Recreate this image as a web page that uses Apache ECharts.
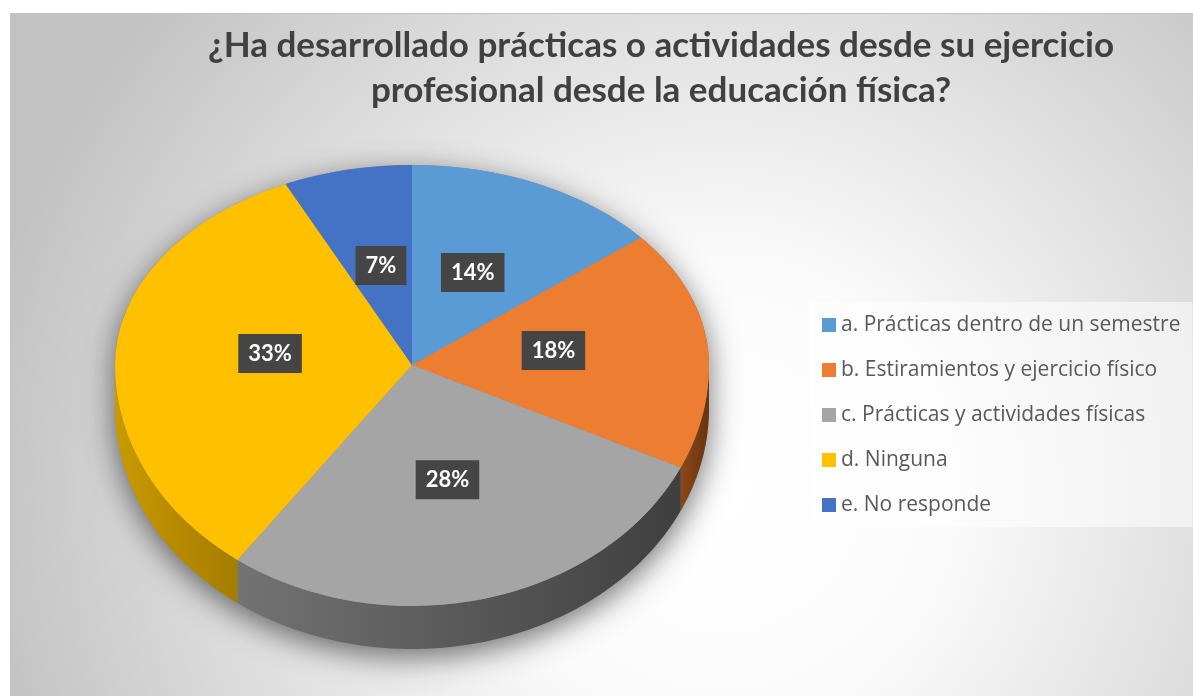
<!DOCTYPE html>
<html>
<head>
<meta charset="utf-8">
<script src="https://cdn.jsdelivr.net/npm/echarts@6/dist/echarts.min.js"></script>
<style>
  html, body { margin: 0; padding: 0; background: #fff; }
  #chart { width: 1193px; height: 696px; }
</style>
</head>
<body>
<div id="chart"></div>
<script>
// datos de la encuesta (porcentajes)
const categories = [
  'a. Prácticas dentro de un semestre',
  'b. Estiramientos y ejercicio físico',
  'c. Prácticas y actividades físicas',
  'd. Ninguna',
  'e. No responde'
];
const values = [14, 18, 28, 33, 7];

// estilos
const topColors = ['#5b9bd5', '#ed7d31', '#a5a5a5', '#ffc000', '#4472c4'];
const sideColors = [
  ['#3f79b0', '#2e5f8e'],
  ['#8c4718', '#6a3410'],
  ['#737373', '#3f3f3f'],
  ['#c99a00', '#a47c00'],
  ['#2f58a0', '#244480']
];
// pastel "3D": mitad de atras mas aplastada que la de delante (perspectiva)
const pie = { cx: 412, cy: 365, rx: 297, ryBack: 200, ryFront: 241, depth: 43 };

const chart = echarts.init(document.getElementById('chart'), null, { renderer: 'canvas' });

const total = values.reduce((s, v) => s + v, 0);

function ellY(t, base) {
  const ry = Math.sin(t) >= 0 ? pie.ryFront : pie.ryBack;
  return base + ry * Math.sin(t);
}

function topPiece(a, b, ry, color) {
  return {
    type: 'sector',
    shape: { cx: pie.cx, cy: pie.cy, r: pie.rx, r0: 0, startAngle: a, endAngle: b, clockwise: true },
    scaleY: ry / pie.rx,
    originX: pie.cx, originY: pie.cy,
    style: { fill: color },
    z2: 10
  };
}

function renderSlice(params, api) {
  const i = params.seriesIndex;
  const v = api.value(0);
  let before = 0;
  for (let k = 0; k < i; k++) before += values[k];
  const s = -Math.PI / 2 + 2 * Math.PI * before / total;
  const e = s + 2 * Math.PI * v / total;
  const children = [];

  // sombra bajo el pastel (solo una vez)
  if (i === 0) {
    const outline = [];
    for (let k = 0; k <= 90; k++) {
      const t = Math.PI + Math.PI * k / 90;
      outline.push([pie.cx + pie.rx * Math.cos(t), pie.cy + pie.ryBack * Math.sin(t)]);
    }
    for (let k = 0; k <= 90; k++) {
      const t = Math.PI * k / 90;
      outline.push([pie.cx + pie.rx * Math.cos(t), pie.cy + pie.depth + pie.ryFront * Math.sin(t)]);
    }
    children.push({
      type: 'polygon',
      shape: { points: outline },
      style: { fill: '#888', shadowBlur: 30, shadowColor: 'rgba(0,0,0,0.55)', shadowOffsetY: 8 },
      z2: 0
    });
  }

  // pared lateral visible (parte delantera)
  const lo = Math.max(s, 0), hi = Math.min(e, Math.PI);
  if (lo < hi) {
    const pts = [];
    const n = 60;
    for (let k = 0; k <= n; k++) {
      const t = lo + (hi - lo) * k / n;
      pts.push([pie.cx + pie.rx * Math.cos(t), ellY(t, pie.cy)]);
    }
    for (let k = n; k >= 0; k--) {
      const t = lo + (hi - lo) * k / n;
      pts.push([pie.cx + pie.rx * Math.cos(t), ellY(t, pie.cy + pie.depth)]);
    }
    children.push({
      type: 'polygon',
      shape: { points: pts },
      style: {
        fill: new echarts.graphic.LinearGradient(0, 0, 1, 0, [
          { offset: 0, color: sideColors[i][0] },
          { offset: 1, color: sideColors[i][1] }
        ])
      },
      z2: 2
    });
  }

  // cara superior, partida en mitad trasera y delantera
  const eps = 0.01;
  if (s < 0) children.push(topPiece(s, Math.min(e, 0) + (e > 0 ? eps : 0), pie.ryBack, topColors[i]));
  if (e > Math.PI) children.push(topPiece(Math.max(s, Math.PI) - (s < Math.PI ? eps : 0), e, pie.ryBack, topColors[i]));
  if (lo < hi) children.push(topPiece(lo, hi, pie.ryFront, topColors[i]));

  // etiqueta
  const m = (s + e) / 2;
  children.push({
    type: 'text',
    z2: 20,
    style: {
      text: Math.round(v / total * 100) + '%',
      x: pie.cx + 0.48 * pie.rx * Math.cos(m),
      y: ellY(m, pie.cy) * 0.5 + pie.cy * 0.5 - 2,
      align: 'center',
      verticalAlign: 'middle',
      fill: '#ffffff',
      fontFamily: 'Lato',
      fontWeight: 'bold',
      fontSize: 22,
      backgroundColor: '#454545',
      padding: [9, 10, 8, 10],
      boxShadowBlur: 6,
      boxShadowColor: 'rgba(0,0,0,0.35)',
      boxShadowOffsetX: 2,
      boxShadowOffsetY: 2
    }
  });

  return { type: 'group', children: children };
}

const series = categories.map((name, i) => ({
  name: name,
  type: 'custom',
  coordinateSystem: 'none',
  renderItem: renderSlice,
  data: [values[i]],
  itemStyle: { color: topColors[i] },
  animation: false
}));

const option = {
  backgroundColor: '#ffffff',
  color: topColors,
  graphic: [{
    type: 'rect',
    left: 10, top: 13, z: -10, silent: true,
    shape: { width: 1183, height: 683 },
    style: {
      fill: new echarts.graphic.RadialGradient(0.6, 0.7, 1.1, [
        { offset: 0, color: '#ffffff' },
        { offset: 0.3, color: '#fbfbfb' },
        { offset: 1, color: '#c2c2c2' }
      ]),
      stroke: '#c3c3c3',
      lineWidth: 1
    }
  }],
  title: {
    text: '¿Ha desarrollado prácticas o actividades desde su ejercicio\nprofesional desde la educación física?',
    left: 656,
    top: 18,
    textAlign: 'center',
    textStyle: {
      fontFamily: 'Lato',
      fontWeight: 'bold',
      fontSize: 35,
      lineHeight: 45,
      color: '#404040'
    }
  },
  legend: {
    orient: 'vertical',
    left: 810,
    top: 302,
    padding: [11, 12, 10, 12],
    backgroundColor: 'rgba(255,255,255,0.55)',
    icon: 'rect',
    itemWidth: 14,
    itemHeight: 14,
    itemGap: 21,
    selectedMode: false,
    textStyle: {
      fontFamily: 'Open Sans',
      fontSize: 21,
      lineHeight: 24,
      color: '#595959'
    },
    data: categories
  },
  series: series
};

chart.setOption(option);
</script>
</body>
</html>
